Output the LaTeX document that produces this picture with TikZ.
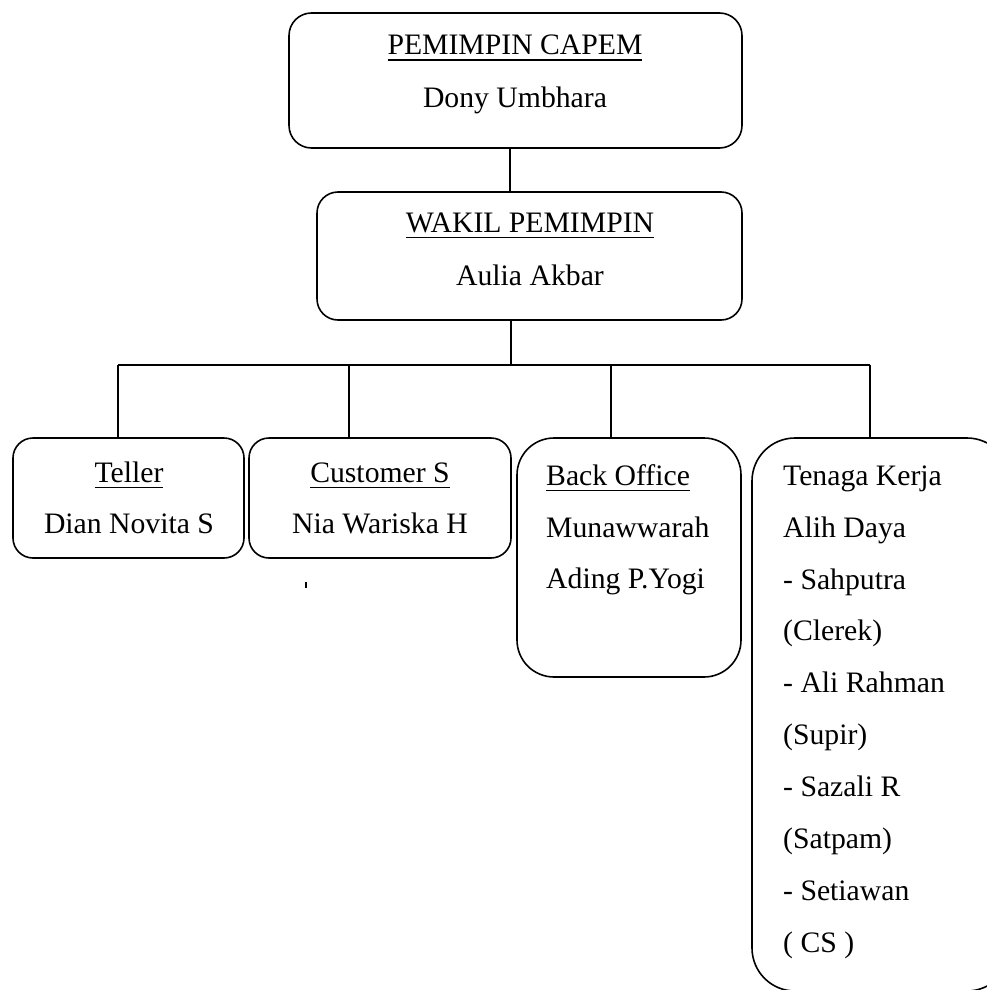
\documentclass[tikz,border=0pt]{standalone}
\usepackage{fontspec}
\setmainfont{Liberation Serif}
\newsavebox\ulbox
\newcommand\myul[1]{\sbox\ulbox{#1}\rlap{\rule[-6pt]{\wd\ulbox}{1.5pt}}\usebox\ulbox}
\tikzset{
  box/.style={draw, line width=1.6pt, inner sep=0pt, outer sep=0pt},
  conn/.style={draw, line width=1.3pt},
  lbl/.style={anchor=base, inner sep=0pt},
  lblw/.style={anchor=base west, inner sep=0pt}
}
\begin{document}
\begin{tikzpicture}[x=1pt, y=-1pt, every node/.style={font=\fontsize{29.7}{36}\selectfont}]
\useasboundingbox (0,0) rectangle (987,990);
\clip (0,0) rectangle (987,990);
\fill[white] (0,0) rectangle (987,990);
% boxes
\node[box, minimum width=453pt, minimum height=135pt, rounded corners=22.5pt] (capem) at (515.5,80.5) {};
\node[box, minimum width=425pt, minimum height=128pt, rounded corners=21pt] (wakil) at (529.5,256) {};
\node[box, minimum width=231pt, minimum height=120pt, rounded corners=20pt] (teller) at (128.5,498) {};
\node[box, minimum width=262pt, minimum height=120pt, rounded corners=20pt] (cs) at (380,498) {};
\node[box, minimum width=224pt, minimum height=239pt, rounded corners=37pt] (bo) at (629,557.5) {};
\node[box, minimum width=258pt, minimum height=553pt, rounded corners=43pt] (tk) at (881,714.5) {};
% texts
\node[lbl] (capemT) at (515,55) {\myul{PEMIMPIN CAPEM}};
\node[lbl] (capemN) at (515,107) {Dony Umbhara};
\node[lbl] (wakilT) at (530,232) {\myul{WAKIL PEMIMPIN}};
\node[lbl] (wakilN) at (530,285) {Aulia Akbar};
\node[lbl] (tellerT) at (129,482) {\myul{Teller}};
\node[lbl] (tellerN) at (129,533) {Dian Novita S};
\node[lbl] (csT) at (380,482) {\myul{Customer S}};
\node[lbl] (csN) at (380,533) {Nia Wariska H};
\node[lblw] (boT) at (546,485) {\myul{Back Office}};
\node[lblw] (boN1) at (546,537) {Munawwarah};
\node[lblw] (boN2) at (546,588) {Ading P.Yogi};
\node[lblw] (tk1) at (783,485) {Tenaga Kerja};
\node[lblw] (tk2) at (783,537) {Alih Daya};
\node[lblw] (tk3) at (783,589) {- Sahputra};
\node[lblw] (tk4) at (783,640) {(Clerek)};
\node[lblw] (tk5) at (783,692) {- Ali Rahman};
\node[lblw] (tk6) at (783,744) {(Supir)};
\node[lblw] (tk7) at (783,796) {- Sazali R};
\node[lblw] (tk8) at (783,848) {(Satpam)};
\node[lblw] (tk9) at (783,900) {- Setiawan};
\node[lblw] (tk10) at (783,952) {( CS )};
% connectors
\coordinate (j0) at (510,170);
\coordinate (bus) at (511,365);
\coordinate (b1) at (118,365);
\coordinate (b2) at (349,365);
\coordinate (b3) at (611,365);
\coordinate (b4) at (870,365);
\draw[conn] (j0 |- capem.south) -- (j0 |- wakil.north);
\draw[conn] (bus |- wakil.south) -- (bus);
\draw[conn] (b1) -- (b4);
\draw[conn] (b1) -- (b1 |- teller.north);
\draw[conn] (b2) -- (b2 |- cs.north);
\draw[conn] (b3) -- (b3 |- bo.north);
\draw[conn] (b4) -- (b4 |- tk.north);
% stray tick
\draw[line width=1.3pt] (306,582) -- (306,588);
\end{tikzpicture}
\end{document}
